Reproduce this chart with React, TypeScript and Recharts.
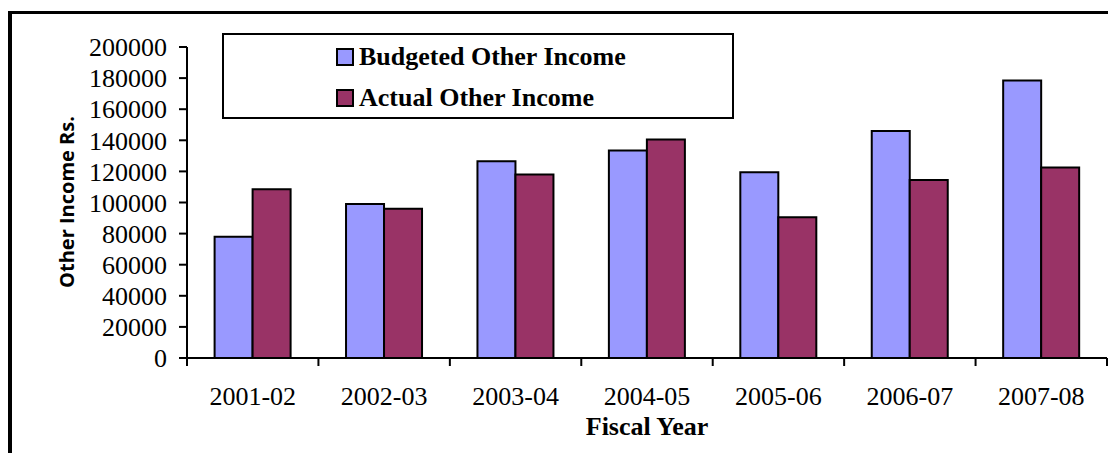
import { Bar, BarChart, Legend, XAxis, YAxis } from 'recharts'

const CATEGORIES = ['2001-02', '2002-03', '2003-04', '2004-05', '2005-06', '2006-07', '2007-08']
const BUDGETED = [78000, 99000, 126500, 133500, 119500, 146000, 178500]
const ACTUAL = [108500, 96000, 118000, 140500, 90500, 114500, 122500]
const Y_TICKS = [0, 20000, 40000, 60000, 80000, 100000, 120000, 140000, 160000, 180000, 200000]

const SERIES = [
  { key: 'budgeted', name: 'Budgeted Other Income', color: '#9999FF' },
  { key: 'actual', name: 'Actual Other Income', color: '#993366' },
]

const W = 1108
const H = 453
const Y_AXIS_W = 187
const MARGIN = { top: 47, right: 1, bottom: 0, left: 0 }
const BAND = (W - Y_AXIS_W - MARGIN.right) / CATEGORIES.length
const SERIF = '"Liberation Serif", "Times New Roman", serif'
const FONT_SIZE = 26

const data = CATEGORIES.map((year, i) => ({
  year,
  budgeted: BUDGETED[i],
  actual: ACTUAL[i],
}))

// ticks sit on the category boundaries, labels at the centres
function XTick(props: any) {
  const { x, y, payload, index } = props
  const half = BAND / 2
  return (
    <g>
      <line x1={x - half} y1={y} x2={x - half} y2={y + 8} stroke="#000" strokeWidth={2} />
      {index === CATEGORIES.length - 1 && (
        <line x1={x + half} y1={y} x2={x + half} y2={y + 8} stroke="#000" strokeWidth={2} />
      )}
      <text x={x} y={y + 47} textAnchor="middle" fontFamily={SERIF} fontSize={FONT_SIZE} fill="#000">
        {payload.value}
      </text>
    </g>
  )
}

function LegendBox() {
  return (
    <div
      style={{
        boxSizing: 'border-box',
        width: 512,
        height: 86,
        border: '2px solid #000',
        background: '#fff',
        position: 'relative',
        fontFamily: SERIF,
        fontWeight: 'bold',
        fontSize: FONT_SIZE,
        color: '#000',
      }}
    >
      {SERIES.map((s, i) => (
        <div
          key={s.key}
          style={{
            position: 'absolute',
            left: 112,
            top: 11 + i * 41,
            height: 22,
            display: 'flex',
            alignItems: 'center',
            whiteSpace: 'nowrap',
          }}
        >
          <span
            style={{
              display: 'inline-block',
              boxSizing: 'border-box',
              width: 18,
              height: 18,
              background: s.color,
              border: '2px solid #000',
              marginRight: 5,
            }}
          />
          <span style={{ lineHeight: '22px' }}>{s.name}</span>
        </div>
      ))}
    </div>
  )
}

export default function App() {
  return (
    <div
      style={{
        position: 'absolute',
        left: 0,
        top: 0,
        width: W,
        height: H,
        overflow: 'hidden',
        background: '#fff',
      }}
    >
      <div
        style={{
          position: 'absolute',
          left: 8,
          top: 11,
          width: W + 50,
          height: H + 50,
          borderLeft: '4px solid #000',
          borderTop: '3px solid #000',
        }}
      />
      <div style={{ position: 'absolute', left: 0, top: 0 }}>
        <BarChart
          width={W}
          height={H}
          data={data}
          margin={MARGIN}
          barCategoryGap="21%"
          barGap={0}
        >
          <XAxis
            dataKey="year"
            height={H - 358}
            tick={<XTick />}
            tickLine={false}
            tickSize={0}
            tickMargin={0}
            axisLine={{ stroke: '#000', strokeWidth: 2 }}
            interval={0}
            label={{
              content: () => (
                <text
                  x={Y_AXIS_W + (W - Y_AXIS_W - MARGIN.right) / 2}
                  y={435}
                  textAnchor="middle"
                  fontFamily={SERIF}
                  fontWeight="bold"
                  fontSize={FONT_SIZE}
                  fill="#000"
                >
                  Fiscal Year
                </text>
              ),
            }}
          />
          <YAxis
            width={Y_AXIS_W}
            domain={[0, 200000]}
            ticks={Y_TICKS}
            interval={0}
            tickSize={8}
            tickMargin={12}
            tickLine={{ stroke: '#000', strokeWidth: 2 }}
            axisLine={{ stroke: '#000', strokeWidth: 2 }}
            tick={{ fontFamily: SERIF, fontSize: FONT_SIZE, fill: '#000' }}
            label={{
              content: () => (
                <text
                  x={0}
                  y={0}
                  transform="translate(66 202) rotate(-90)"
                  textAnchor="middle"
                  dominantBaseline="central"
                  fontFamily="'Open Sans', Lato, sans-serif"
                  fontWeight="bold"
                  fontSize={20}
                  fill="#000"
                >
                  Other Income Rs.
                </text>
              ),
            }}
          />
          <Legend
            layout="vertical"
            verticalAlign="middle"
            align="center"
            content={<LegendBox />}
            wrapperStyle={{ position: 'absolute', left: 222, top: 33, width: 512, height: 86 }}
          />
          {SERIES.map((s) => (
            <Bar
              key={s.key}
              dataKey={s.key}
              name={s.name}
              fill={s.color}
              stroke="#000"
              strokeWidth={2}
              isAnimationActive={false}
            />
          ))}
        </BarChart>
      </div>
    </div>
  )
}
